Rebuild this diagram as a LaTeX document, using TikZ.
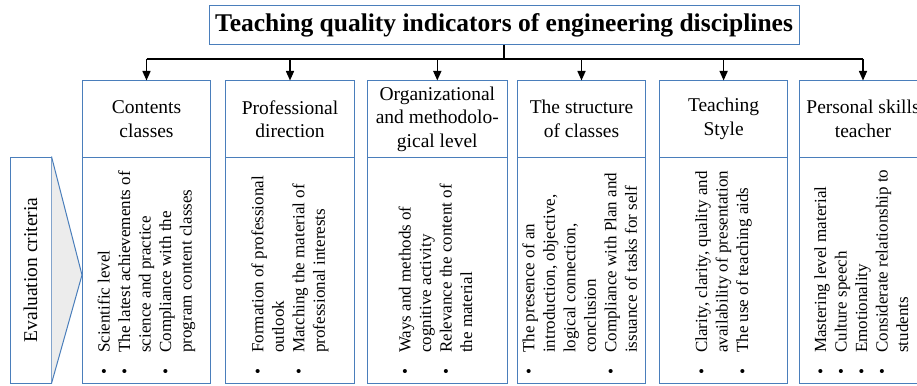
\documentclass[tikz,border=0pt]{standalone}
\usepackage{fontspec}
\setmainfont{Liberation Serif}
\usetikzlibrary{arrows.meta}
\definecolor{bord}{HTML}{4A7EBB}
\newcommand\critbul{\makebox[22pt][l]{\textbullet}}
\begin{document}
\begin{tikzpicture}[x=1pt,y=-1pt,
  box/.style={draw=bord, line width=1pt, inner sep=0pt},
  head/.style={box, align=center, font=\fontsize{19.5}{23.5}\selectfont, minimum height=76pt},
  lower/.style={box, minimum height=226pt},
  conn/.style={line width=1.5pt, black},
  arr/.style={conn, -{Triangle[length=9.5pt,width=8pt]}},
  crit/.style={rotate=90, anchor=west, inner sep=0pt, font=\fontsize{17}{20.5}\selectfont}
]
\useasboundingbox (0,0) rectangle (917,385);
\clip (0,0) rectangle (917,385);

% title
\node[box, font=\fontsize{25.5}{30}\selectfont\bfseries, minimum width=590pt, minimum height=39pt] (title) at (504,25.5) {Teaching quality indicators of engineering disciplines};

% headers
\node[head, minimum width=128pt] (h1) at (146.5,119) {Contents\\classes};
\node[head, minimum width=128.7pt] (h2) at (290,119) {Professional\\direction};
\node[head, minimum width=140.6pt] (h3) at (437.3,119) {Organizational\\and methodolo-\\gical level};
\node[head, minimum width=128pt] (h4) at (581.5,119) {The structure\\of classes};
\node[head, minimum width=128pt] (h5) at (723.6,119) {Teaching\\Style};
\node[head, minimum width=128pt] (h6) at (863,119) {Personal skills\\teacher};

% lower boxes
\node[lower, minimum width=128pt] (l1) at (146.5,270) {};
\node[lower, minimum width=128.7pt] (l2) at (290,270) {};
\node[lower, minimum width=140.6pt] (l3) at (437.3,270) {};
\node[lower, minimum width=128pt] (l4) at (581.5,270) {};
\node[lower, minimum width=128pt] (l5) at (723.6,270) {};
\node[lower, minimum width=128pt] (l6) at (863,270) {};

% criteria texts
\node[crit] (t1) at (146.5,375) {\begin{tabular}{@{}l@{}l@{}}
\critbul & Scientific level\\
\critbul & The latest achievements of\\
 & science and practice\\
\critbul & Compliance with the\\
 & program content classes\end{tabular}};
\node[crit] (t2) at (290,375) {\begin{tabular}{@{}l@{}l@{}}
\critbul & Formation of professional\\
 & outlook\\
\critbul & Matching the material of\\
 & professional interests\end{tabular}};
\node[crit] (t3) at (437.3,375) {\begin{tabular}{@{}l@{}l@{}}
\critbul & Ways and methods of\\
 & cognitive activity\\
\critbul & Relevance the content of\\
 & the material\end{tabular}};
\node[crit] (t4) at (581.5,375) {\begin{tabular}{@{}l@{}l@{}}
\critbul & The presence of an\\
 & introduction, objective,\\
 & logical connection,\\
 & conclusion\\
\critbul & Compliance with Plan and\\
 & issuance of tasks for self\end{tabular}};
\node[crit] (t5) at (723.6,375) {\begin{tabular}{@{}l@{}l@{}}
\critbul & Clarity, clarity, quality and\\
 & availability of presentation\\
\critbul & The use of teaching aids\end{tabular}};
\node[crit] (t6) at (863,375) {\begin{tabular}{@{}l@{}l@{}}
\critbul & Mastering level material\\
\critbul & Culture speech\\
\critbul & Emotionality\\
\critbul & Considerate relationship to\\
 & students\end{tabular}};

% evaluation criteria
\node[box, minimum width=41pt, minimum height=226pt] (ev) at (30.5,270) {};
\draw[draw=bord, line width=1pt, fill=gray!15] (ev.north east) -- (82,275) -- (ev.south east);
\node[rotate=90, inner sep=0pt, font=\fontsize{19.5}{23.5}\selectfont] (evt) at (ev.center) {Evaluation criteria};

% connectors
\coordinate (bar) at (0,59);
\draw[conn] (title.south) -- (title.south |- bar);
\draw[conn] (h1.north |- bar) -- (h6.north |- bar);
\foreach \i in {1,...,6} {\draw[arr] (h\i.north |- bar) -- (h\i.north);}
\end{tikzpicture}
\end{document}
